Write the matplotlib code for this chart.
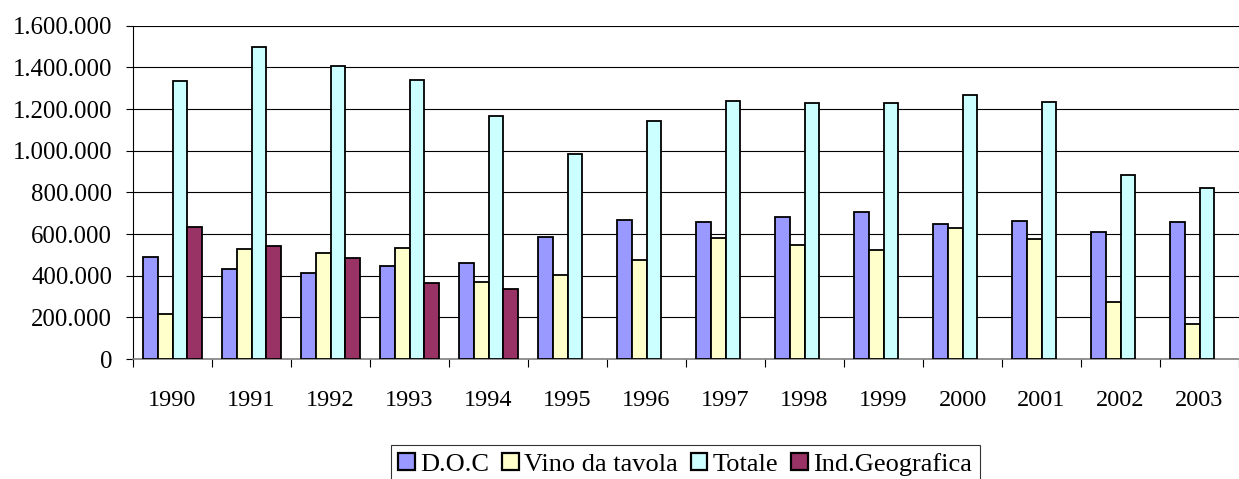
import numpy as np
import matplotlib

matplotlib.use("Agg")

import matplotlib.pyplot as plt
from matplotlib.ticker import FixedLocator, FuncFormatter, MultipleLocator

plt.rcParams["font.family"] = ["Liberation Serif", "DejaVu Serif"]

years = ["1990", "1991", "1992", "1993", "1994", "1995", "1996",
         "1997", "1998", "1999", "2000", "2001", "2002", "2003"]
doc = [488, 432, 414, 445, 461, 584, 667, 656, 683, 706, 647, 662, 610, 656]
vino_da_tavola = [216, 526, 509, 534, 370, 403, 474, 581, 546, 522, 627, 574, 274, 166]
totale = [1333, 1496, 1406, 1338, 1166, 984, 1141, 1240, 1229, 1227, 1269, 1234, 883, 819]
ind_geografica = [634, 541, 485, 365, 338, np.nan, np.nan, np.nan, np.nan,
                  np.nan, np.nan, np.nan, np.nan, np.nan]

series = [
    ("D.O.C", doc, "#9999FF"),
    ("Vino da tavola", vino_da_tavola, "#FFFFCC"),
    ("Totale", totale, "#CCFFFF"),
    ("Ind.Geografica", ind_geografica, "#993366"),
]

fig = plt.figure(figsize=(12.39, 4.79), dpi=100)
ax = fig.add_axes([133 / 1239, 120 / 479, 1 - 133 / 1239, 333.3 / 479])

centers = np.arange(len(years)) + 0.5
bar_w = 0.185
for i, (name, values, color) in enumerate(series):
    vals = np.asarray(values, dtype=float) * 1000
    offset = (i - 1.5) * bar_w
    ax.bar(centers + offset, vals, width=bar_w, color=color,
           edgecolor="black", linewidth=1.3, label=name, zorder=3)

ax.set_xlim(0, len(years))
ax.set_ylim(0, 1_600_000)
ax.yaxis.set_major_locator(MultipleLocator(200_000))
ax.yaxis.set_major_formatter(FuncFormatter(lambda v, _: f"{int(v):,}".replace(",", ".")))
ax.tick_params(axis="y", labelsize=17.8, length=5, width=0.8, pad=10, color="black")

ax.set_xticks(centers)
ax.set_xticklabels(years)
ax.xaxis.set_minor_locator(FixedLocator(np.arange(len(years) + 1)))
ax.tick_params(axis="x", which="major", length=0, labelsize=17.5, pad=22)
ax.tick_params(axis="x", which="minor", length=6, width=0.8, color="black")

ax.grid(axis="y", color="black", linewidth=0.8, zorder=0)
ax.get_ygridlines()[-1].set_visible(False)
ax.set_axisbelow(True)

for side in ("top", "right"):
    ax.spines[side].set_visible(False)
ax.spines["left"].set_color("black")
ax.spines["left"].set_linewidth(0.8)
ax.spines["bottom"].set_color("#808080")
ax.spines["bottom"].set_linewidth(1.2)

leg = fig.legend(loc="upper center", bbox_to_anchor=(0.553, 34 / 479), ncol=4,
                 fontsize=19, frameon=True, fancybox=False, edgecolor="black",
                 handlelength=0.62, handleheight=0.62, handletextpad=0.2,
                 columnspacing=0.5, borderpad=0.3, borderaxespad=0)
leg.get_frame().set_linewidth(0.8)
for patch in leg.get_patches():
    patch.set_linewidth(1.6)

fig.savefig("out.png", dpi=100)
